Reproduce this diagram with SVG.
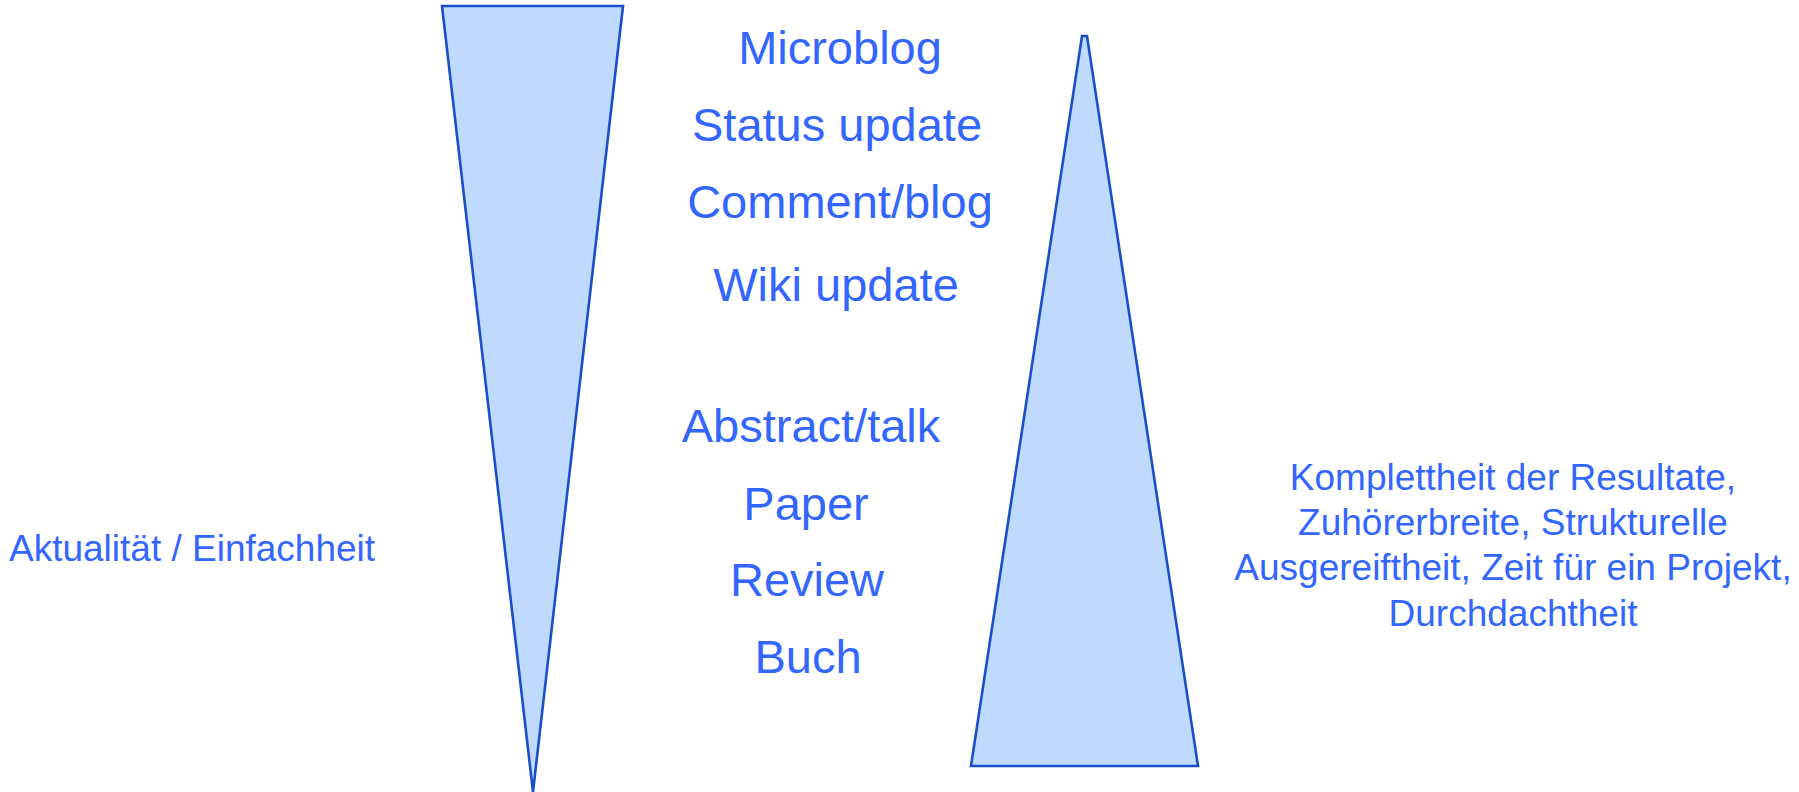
<svg xmlns="http://www.w3.org/2000/svg" width="1799" height="792" viewBox="0 0 1799 792">
  <style>
    .wedge { fill: #bfd9ff; stroke: #1850c8; stroke-width: 2.6; stroke-linejoin: miter; }
    .lbl { font-family: "Liberation Sans", Arial, sans-serif; fill: #3366ff; }
    .big { font-size: 47px; text-anchor: middle; }
    .side { font-size: 37px; }
    .mid { text-anchor: middle; }
  </style>

  <!-- narrowing wedge: recency / simplicity -->
  <g id="wedge-down">
    <polygon class="wedge" points="442,6 623,6 533,792"/>
  </g>

  <!-- widening wedge: completeness / maturity -->
  <g id="wedge-up">
    <polygon class="wedge" points="1082,36 1087,36 1198,766 971,766"/>
  </g>

  <!-- publication formats, short-lived to long-lived -->
  <g id="formats">
    <text class="lbl big" x="840" y="64">Microblog</text>
    <text class="lbl big" x="837" y="141">Status update</text>
    <text class="lbl big" x="840" y="218">Comment/blog</text>
    <text class="lbl big" x="836" y="301">Wiki update</text>
    <text class="lbl big" x="811" y="442">Abstract/talk</text>
    <text class="lbl big" x="806" y="520">Paper</text>
    <text class="lbl big" x="807" y="596">Review</text>
    <text class="lbl big" x="808" y="673">Buch</text>
  </g>

  <g id="label-left">
    <text class="lbl side" x="9" y="561">Aktualität / Einfachheit</text>
  </g>

  <g id="label-right">
    <text class="lbl side mid" x="1513" y="490">Komplettheit der Resultate,</text>
    <text class="lbl side mid" x="1513" y="535">Zuhörerbreite, Strukturelle</text>
    <text class="lbl side mid" x="1513" y="580">Ausgereiftheit, Zeit für ein Projekt,</text>
    <text class="lbl side mid" x="1513" y="626">Durchdachtheit</text>
  </g>
</svg>
